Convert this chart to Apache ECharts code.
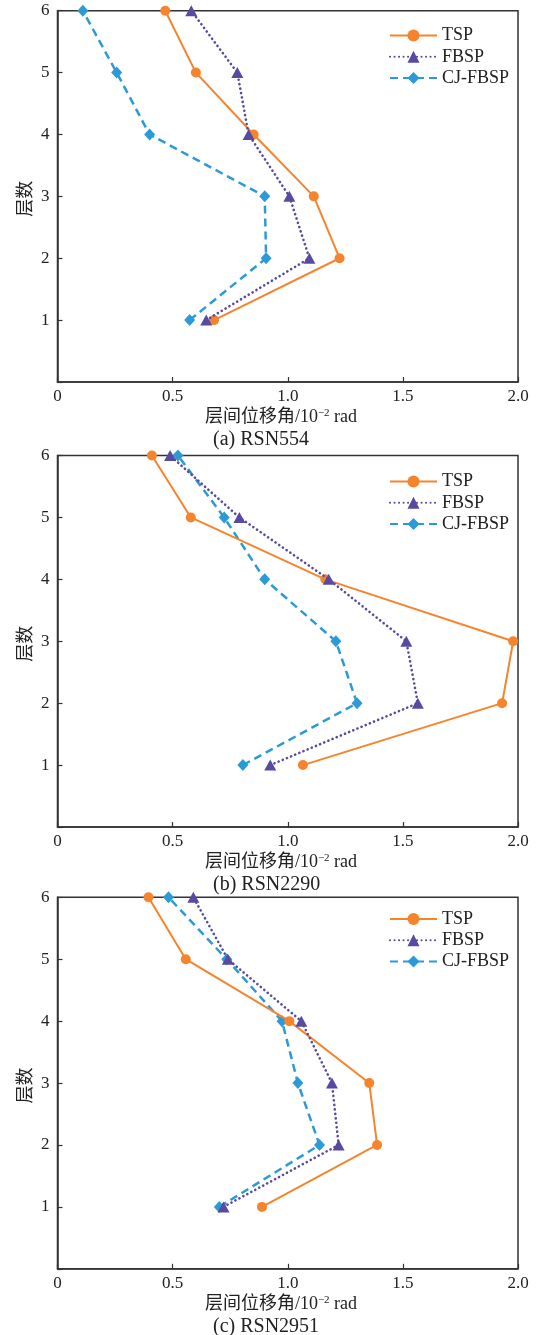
<!DOCTYPE html>
<html>
<head>
<meta charset="utf-8">
<script src="https://cdn.jsdelivr.net/npm/echarts@6/dist/echarts.min.js"></script>
<style>
  html, body { margin: 0; padding: 0; background: #fff; }
  #chart { width: 537px; height: 1335px; }
</style>
</head>
<body>
<div id="chart"></div>
<script>
// Storey numbers (vertical axis)
const floors = [1, 2, 3, 4, 5, 6];

// Inter-storey drift angle (10^-2 rad), floor 1 → 6
// (a) RSN554
const tspA  = [0.68, 1.225, 1.113, 0.852, 0.601, 0.468];
const fbspA = [0.646, 1.094, 1.007, 0.830, 0.781, 0.581];
const cjA   = [0.574, 0.906, 0.900, 0.400, 0.257, 0.110];
// (b) RSN2290
const tspB  = [1.066, 1.931, 1.979, 1.163, 0.579, 0.410];
const fbspB = [0.924, 1.565, 1.515, 1.178, 0.790, 0.489];
const cjB   = [0.805, 1.301, 1.209, 0.900, 0.724, 0.523];
// (c) RSN2951
const tspC  = [0.888, 1.388, 1.354, 1.007, 0.557, 0.395];
const fbspC = [0.721, 1.221, 1.192, 1.059, 0.740, 0.590];
const cjC   = [0.703, 1.138, 1.044, 0.975, 0.735, 0.482];

const seriesNames = ['TSP', 'FBSP', 'CJ-FBSP'];
const captions = ['(a) RSN554', '(b) RSN2290', '(c) RSN2951'];
const xTicks = ['0', '0.5', '1.0', '1.5', '2.0'];

const panels = [
  { tsp: tspA, fbsp: fbspA, cj: cjA, top: 10.7, height: 371.3, legendTop: 21.5 },
  { tsp: tspB, fbsp: fbspB, cj: cjB, top: 455.5, height: 371.5, legendTop: 467.5 },
  { tsp: tspC, fbsp: fbspC, cj: cjC, top: 897.3, height: 371.5, legendTop: 905 }
];

const COLORS = { tsp: '#F5842D', fbsp: '#574BA1', cj: '#2C9AD7' };
const AXIS = '#333333';
const SERIF = '"Liberation Serif", "Times New Roman", "Noto Sans CJK SC", serif';
const GRID_LEFT = 57.5, GRID_W = 460.5;

const pairs = (xs) => xs.map((x, i) => [x, floors[i]]);

const grid = [], xAxis = [], yAxis = [], series = [], legend = [], graphic = [];

panels.forEach((p, k) => {
  grid.push({
    left: GRID_LEFT, top: p.top, width: GRID_W, height: p.height,
    show: true, borderColor: AXIS, borderWidth: 1.5, backgroundColor: 'transparent'
  });
  xAxis.push({
    gridIndex: k, type: 'value', min: 0, max: 2, interval: 0.5,
    axisLine: { show: true, onZero: false, lineStyle: { color: AXIS, width: 1.5 } },
    axisTick: { show: true, inside: true, length: 5, lineStyle: { color: AXIS, width: 1.2 } },
    axisLabel: {
      margin: 6, color: '#222', fontSize: 17, fontFamily: SERIF,
      formatter: (v) => xTicks[Math.round(v / 0.5)]
    },
    splitLine: { show: false }
  });
  yAxis.push({
    gridIndex: k, type: 'value', min: 0, max: 6, interval: 1,
    axisLine: { show: true, onZero: false, lineStyle: { color: AXIS, width: 1.5 } },
    axisTick: { show: true, inside: true, length: 5, lineStyle: { color: AXIS, width: 1.2 } },
    axisLabel: {
      margin: 8, color: '#222', fontSize: 17, fontFamily: SERIF,
      formatter: (v) => (v === 0 ? '' : String(v))
    },
    splitLine: { show: false }
  });

  series.push({
    name: 'TSP', type: 'line', xAxisIndex: k, yAxisIndex: k,
    data: pairs(p.tsp), symbol: 'circle', symbolSize: 10,
    lineStyle: { color: COLORS.tsp, width: 2, type: 'solid' },
    itemStyle: { color: COLORS.tsp }, z: 3
  });
  series.push({
    name: 'FBSP', type: 'line', xAxisIndex: k, yAxisIndex: k,
    data: pairs(p.fbsp), symbol: 'triangle', symbolSize: [12, 11],
    lineStyle: { color: COLORS.fbsp, width: 2.6, type: [0.1, 4.4], cap: 'round' },
    itemStyle: { color: COLORS.fbsp }, z: 4
  });
  series.push({
    name: 'CJ-FBSP', type: 'line', xAxisIndex: k, yAxisIndex: k,
    data: pairs(p.cj), symbol: 'diamond', symbolSize: [11, 12],
    lineStyle: { color: COLORS.cj, width: 2.5, type: [8, 5] },
    itemStyle: { color: COLORS.cj }, z: 2
  });

  legend.push({
    data: seriesNames, orient: 'vertical', left: 384, top: p.legendTop,
    itemWidth: 47, itemHeight: 15, itemGap: 3.3, selectedMode: false,
    textStyle: { fontSize: 18, fontFamily: SERIF, color: '#222', lineHeight: 18 }
  });

  const bottom = p.top + p.height;
  // y-axis title
  graphic.push({
    type: 'text', x: 26, y: p.top + p.height / 2 + 2.5, rotation: Math.PI / 2,
    style: {
      text: '层数', fill: '#222', font: '18px ' + SERIF,
      align: 'center', verticalAlign: 'middle'
    }
  });
  // x-axis title with superscript exponent
  graphic.push({
    type: 'text', x: 281, y: bottom + 35,
    style: {
      text: '层间位移角/10{sup|−2} rad', fill: '#222', font: '18px ' + SERIF,
      align: 'center', verticalAlign: 'middle',
      rich: { sup: { fontSize: 11, fontFamily: SERIF, verticalAlign: 'top', fill: '#222' } }
    }
  });
  // panel caption
  graphic.push({
    type: 'text', x: 213, y: bottom + 58,
    style: {
      text: captions[k], fill: '#222', font: '20px ' + SERIF,
      align: 'left', verticalAlign: 'middle'
    }
  });
});

const chart = echarts.init(document.getElementById('chart'), null, { renderer: 'canvas' });
chart.setOption({
  backgroundColor: '#ffffff',
  animation: false,
  grid, xAxis, yAxis, series, legend, graphic
});
</script>
</body>
</html>
